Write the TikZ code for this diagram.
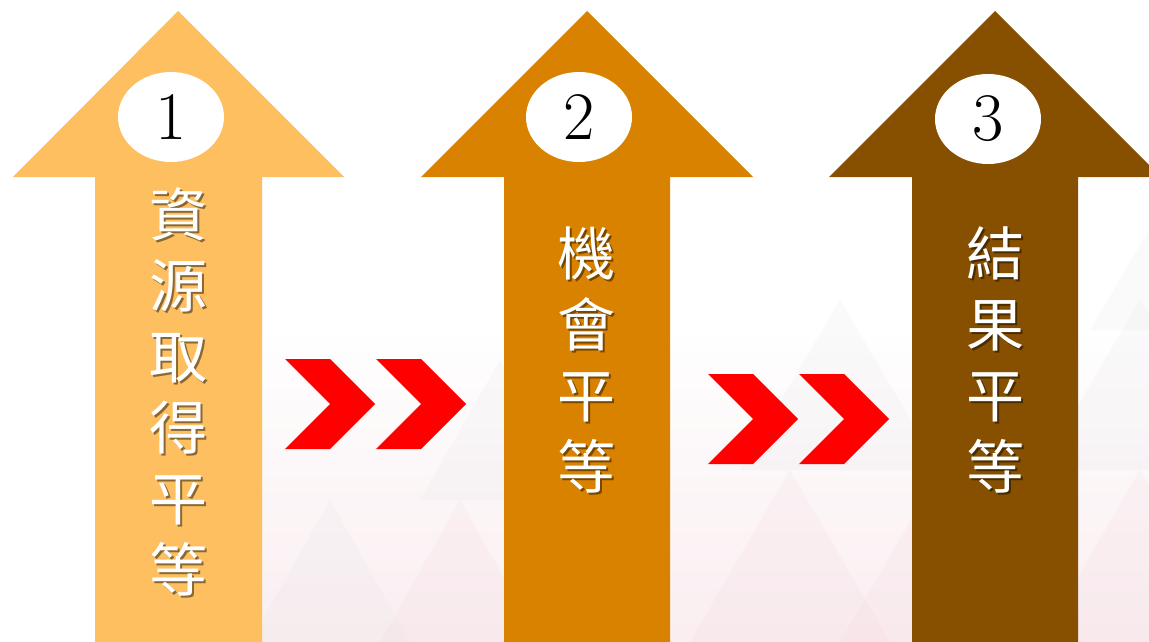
\documentclass[tikz,border=0pt]{standalone}
\usepackage{fontspec}
\newfontfamily\cjk{Noto Sans CJK TC}
\usetikzlibrary{shapes.geometric}
\definecolor{arrA}{HTML}{FDBF5F}
\definecolor{arrB}{HTML}{D98200}
\definecolor{arrC}{HTML}{865000}
\definecolor{chev}{HTML}{FF0000}
\definecolor{bgpink}{HTML}{F4D7DD}
\definecolor{bggrey}{HTML}{E4E4EA}
\tikzset{
  numoval/.style={ellipse, fill=white, minimum width=106pt, minimum height=90pt, inner sep=0pt,
    font=\fontsize{68}{68}\selectfont, text=black},
  vlabel/.style={align=center, anchor=north, inner sep=0pt, text=white,
    font=\cjk\fontsize{58}{71}\selectfont},
  vshadow/.style={vlabel, text=black, opacity=0.45},
  chevron/.style={fill=chev},
  bgtri/.style={fill=#1, fill opacity=0.18},
}
\begin{document}
\begin{tikzpicture}[x=1pt,y=-1pt]
\useasboundingbox (0,0) rectangle (1149,642);
\fill[white] (0,0) rectangle (1149,642);
% faint background pattern
\begin{scope}
\clip (0,0) rectangle (1149,642);
\shade[top color=white, bottom color=bgpink!60, opacity=0.7] (260,330) rectangle (1149,642);
\fill[bgtri=bggrey] (250,642) -- (330,500) -- (410,642) -- cycle;
\fill[bgtri=bgpink] (380,642) -- (460,500) -- (540,642) -- cycle;
\fill[bgtri=bggrey] (420,500) -- (500,360) -- (580,500) -- cycle;
\fill[bgtri=bgpink] (690,642) -- (790,470) -- (890,642) -- cycle;
\fill[bgtri=bggrey] (740,470) -- (840,300) -- (940,470) -- cycle;
\fill[bgtri=bgpink] (840,642) -- (940,470) -- (1040,642) -- cycle;
\fill[bgtri=bggrey] (1040,470) -- (1140,300) -- (1240,470) -- cycle;
\fill[bgtri=bgpink] (1040,642) -- (1140,470) -- (1240,642) -- cycle;
\fill[bgtri=bggrey] (1090,330) -- (1149,230) -- (1149,330) -- cycle;
\end{scope}
% arrows
\begin{scope}
\clip (0,0) rectangle (1149,642);
\fill[arrA] (95,642) -- (95,177) -- (13,177) -- (178,11) -- (344,177) -- (262,177) -- (262,642) -- cycle;
\fill[arrB] (504,642) -- (504,177) -- (421,177) -- (587,11) -- (753,177) -- (670,177) -- (670,642) -- cycle;
\fill[arrC] (912,642) -- (912,177) -- (829,177) -- (995,11) -- (1161,177) -- (1078,177) -- (1078,642) -- cycle;
\end{scope}
% number ovals
\node[numoval] (n1) at (171,117) {1};
\node[numoval] (n2) at (579,117) {2};
\node[numoval] (n3) at (988,119) {3};
% vertical labels
\node[vshadow] (s1) at (180.5,189.5) {資\\源\\取\\得\\平\\等};
\node[vlabel] (t1) at (178.5,187.5) {資\\源\\取\\得\\平\\等};
\node[vshadow] (s2) at (588.5,228.5) {機\\會\\平\\等};
\node[vlabel] (t2) at (586.5,226.5) {機\\會\\平\\等};
\node[vshadow] (s3) at (997.5,228.5) {結\\果\\平\\等};
\node[vlabel] (t3) at (995.5,226.5) {結\\果\\平\\等};
% chevrons pair 1
\fill[chevron] (285,359) -- (330,359) -- (375,404) -- (330,449) -- (285,449) -- (330,404) -- cycle;
\fill[chevron] (376,359) -- (421,359) -- (466,404) -- (421,449) -- (376,449) -- (421,404) -- cycle;
% chevrons pair 2
\fill[chevron] (708,374) -- (753,374) -- (798,419) -- (753,464) -- (708,464) -- (753,419) -- cycle;
\fill[chevron] (799,374) -- (844,374) -- (889,419) -- (844,464) -- (799,464) -- (844,419) -- cycle;
\end{tikzpicture}
\end{document}
